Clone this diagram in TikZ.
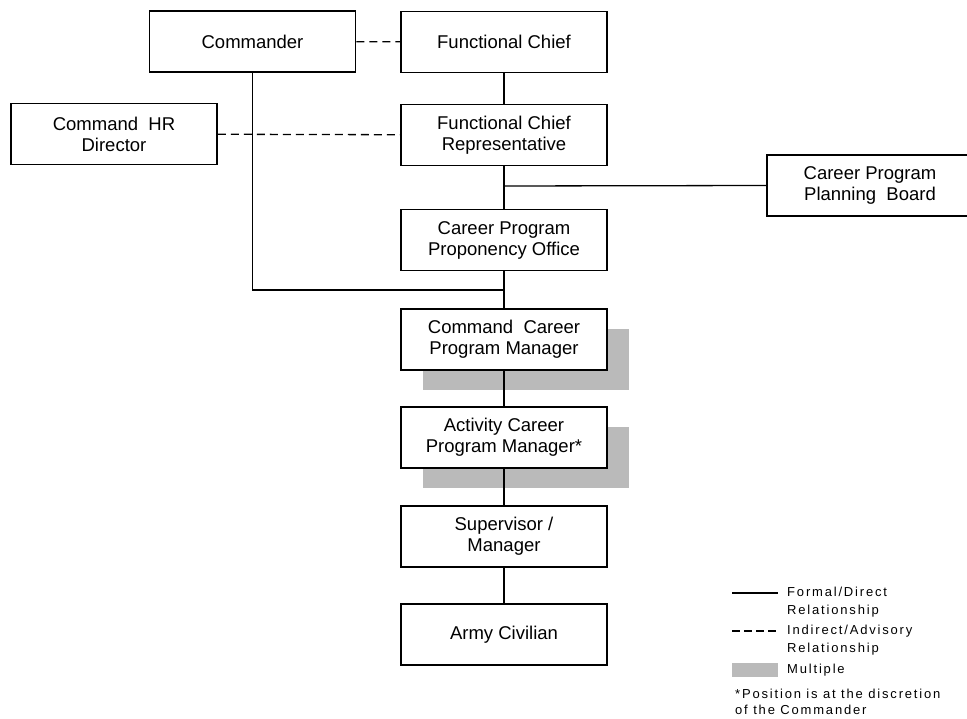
\documentclass[tikz,border=0pt]{standalone}
\usepackage{fontspec}
\setmainfont{Liberation Sans}
\newfontfamily\legendfont[LetterSpace=14]{Liberation Sans}
\usetikzlibrary{shadows}
\begin{document}
\begin{tikzpicture}[x=1pt,y=-1pt,
    box/.style={draw,line width=1.5pt,fill=white,minimum width=206pt,minimum height=61pt,
      inner sep=0pt,align=center,font=\fontsize{18.5}{21}\selectfont},
    multiple/.style={drop shadow={shadow xshift=22pt,shadow yshift=-20pt,fill=black!27,opacity=1}},
    formal/.style={line width=1.3pt},
    advisory/.style={line width=1.3pt,dash pattern=on 8pt off 5pt},
    legend/.style={anchor=west,align=left,inner sep=0pt,font=\legendfont\fontsize{13}{18}\selectfont}]
  \useasboundingbox (0,0) rectangle (967,719);
  \draw
    (252.5,41.5) node[box] (cmdr){Commander}
    (504,42) node[box] (fc){Functional Chief}
    (114,134) node[box] (hr){Command\ \ HR\\Director}
    (504,135) node[box] (fcr){Functional Chief\\Representative}
    (870,185.5) node[box] (board){Career Program\\Planning\ \ Board}
    (504,240) node[box] (cppo){Career Program\\Proponency Office}
    (504,339.5) node[box,multiple] (ccpm){Command\ \ Career\\Program Manager}
    (504,437.5) node[box,multiple] (acpm){Activity Career\\Program Manager*}
    (504,536.5) node[box] (sup){Supervisor /\\Manager}
    (504,634.5) node[box] (civ){Army Civilian};
  \coordinate (split) at (504,186);
  \coordinate (join) at (504,290);
  \begin{scope}[formal]
    \draw (fc) to (fcr);
    \draw (fcr) to (cppo);
    \draw (cppo) to (ccpm);
    \draw (ccpm) to (acpm);
    \draw (acpm) to (sup);
    \draw (sup) to (civ);
    \draw (split) to (board.west);
    \draw (cmdr) |- (join);
  \end{scope}
  \begin{scope}[advisory]
    \draw (cmdr) to (fc);
    \draw (hr) to (fcr);
  \end{scope}
  % legend
  \coordinate (fa) at (732,593);
  \coordinate (fb) at (778,593);
  \coordinate (aa) at (732,631);
  \coordinate (ab) at (778,631);
  \draw[formal] (fa) -- (fb);
  \draw[advisory,dash pattern=on 8pt off 4pt] (aa) -- (ab);
  \fill[black!27] (732,663) rectangle (778,677);
  \node[legend] (formaltxt) at (787,602.5) {Formal/Direct\\Relationship};
  \node[legend] (advtxt) at (787,640) {Indirect/Advisory\\Relationship};
  \node[legend] (multtxt) at (787,670) {Multiple};
  \node[legend,font=\legendfont\fontsize{13}{16}\selectfont] (note) at (735,702) {*Position is at the discretion\\of the Commander};
\end{tikzpicture}
\end{document}
